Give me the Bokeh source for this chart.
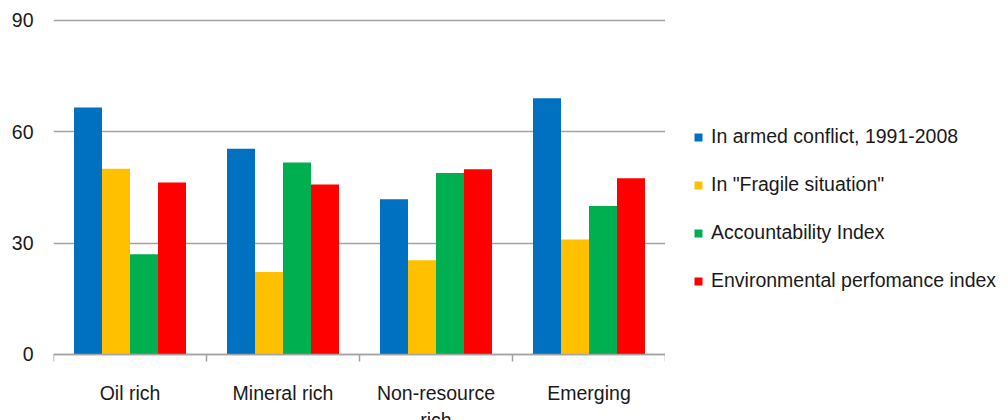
import numpy as np
from bokeh.plotting import figure
from bokeh.layouts import row
from bokeh.models import (Range1d, FixedTicker, Legend, LegendItem, ColumnDataSource)
from bokeh.embed import file_html
from bokeh.resources import INLINE

categories = ["Oil rich", "Mineral rich", "Non-resource\nrich", "Emerging"]
series_names = ["In armed conflict, 1991-2008", "In \"Fragile situation\"",
                "Accountability Index", "Environmental perfomance index"]
armed_conflict = [66.5, 55.4, 41.8, 69.0]
fragile = [50.0, 22.2, 25.4, 31.0]
accountability = [27.0, 51.7, 48.9, 40.0]
environmental = [46.3, 45.8, 49.9, 47.5]
colors = ["#0070C0", "#FFC000", "#00B050", "#FF0000"]
y_ticks = [0, 30, 60, 90]

series = [armed_conflict, fragile, accountability, environmental]

FONT = "Liberation Sans"
TXT = "#1a1a1a"
GRID = "#a3a3a3"

# frame: x 53..665, y 18..420 ; value 0 sits at y=354, 90 at y=20
p = figure(width=665, height=420, output_backend="svg", toolbar_location=None,
           x_range=Range1d(0, len(categories)), y_range=Range1d(-17.78, 90.5),
           min_border_left=53, min_border_right=0, min_border_top=18,
           min_border_bottom=0)
p.outline_line_color = None
p.background_fill_color = "white"
p.border_fill_color = "white"

centers = np.arange(len(categories)) + 0.5
bw = 0.183
for k, (name, vals, col) in enumerate(zip(series_names, series, colors)):
    src = ColumnDataSource(dict(x=centers + (k - 1.5) * bw, top=vals))
    p.vbar(x="x", top="top", width=bw, bottom=0, source=src,
           fill_color=col, line_color=None)

# x axis fixed at value 0: labels at centres, boundary ticks as minor ticks
p.xaxis.fixed_location = 0
p.xaxis.ticker = FixedTicker(ticks=list(centers), minor_ticks=list(range(len(categories) + 1)))
p.xaxis.major_label_overrides = {float(c): lab for c, lab in zip(centers, categories)}
p.xaxis.major_tick_out = 0
p.xaxis.major_tick_in = 0
p.xaxis.minor_tick_out = 7
p.xaxis.minor_tick_in = 0
p.xaxis.minor_tick_line_color = GRID
p.xaxis.minor_tick_line_width = 1.5
p.xaxis.axis_line_color = GRID
p.xaxis.axis_line_width = 1.5
p.xaxis.major_label_standoff = 21
p.xaxis.major_label_text_font = FONT
p.xaxis.major_label_text_font_size = "19.5px"
p.xaxis.major_label_text_color = TXT
p.xaxis.major_label_text_line_height = 1.22
p.xgrid.grid_line_color = None

p.yaxis.ticker = FixedTicker(ticks=y_ticks)
p.yaxis.axis_line_color = None
p.yaxis.major_tick_line_color = None
p.yaxis.major_tick_out = 0
p.yaxis.major_tick_in = 0
p.yaxis.minor_tick_line_color = None
p.yaxis.major_label_standoff = 20
p.yaxis.major_label_text_font = FONT
p.yaxis.major_label_text_font_size = "19.5px"
p.yaxis.major_label_text_color = TXT
p.ygrid.ticker = FixedTicker(ticks=y_ticks)
p.ygrid.grid_line_color = GRID
p.ygrid.grid_line_width = 1.5

# legend panel on the right (swatch renderers hold a single off-range dummy)
pl = figure(width=343, height=420, output_backend="svg", toolbar_location=None,
            x_range=Range1d(0, 1), y_range=Range1d(0, 1),
            x_axis_location=None, y_axis_location=None,
            min_border_left=0, min_border_right=0, min_border_top=0, min_border_bottom=0)
pl.outline_line_color = None
pl.grid.grid_line_color = None
items = []
for name, col in zip(series_names, colors):
    r = pl.vbar(x=[-10], top=[0], bottom=0, width=0.1, fill_color=col, line_color=None)
    items.append(LegendItem(label=name, renderers=[r]))
legend = Legend(items=items, location=(28, 128), orientation="vertical",
                label_text_font=FONT, label_text_font_size="19.5px",
                label_text_color=TXT, glyph_width=10, glyph_height=10,
                label_standoff=8, label_height=20, spacing=25, padding=0, margin=0,
                border_line_color=None, background_fill_alpha=0)
pl.add_layout(legend)

layout = row(p, pl)
open("out.html", "w").write(file_html(layout, INLINE))
